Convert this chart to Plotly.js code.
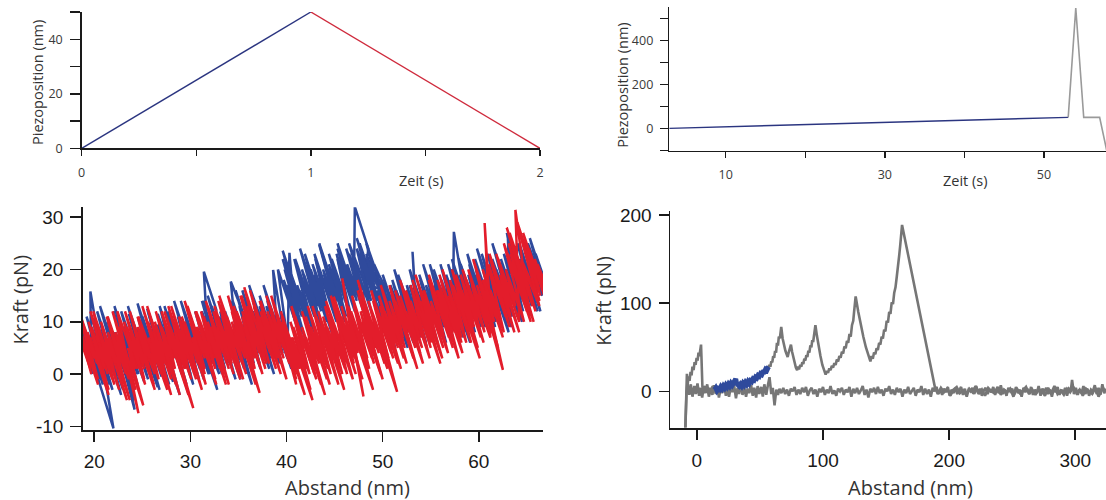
<!DOCTYPE html>
<html>
<head>
<meta charset="utf-8">
<script src="https://cdn.plot.ly/plotly-3.0.1.min.js"></script>
<style>html,body{margin:0;padding:0;background:#fff}#chart{width:1106px;height:500px}</style>
</head>
<body>
<div id="chart"></div>
<script>
// ---- Top left: piezo ramp (Zeit in s, Piezoposition in nm)
const zeitHin = [0, 1];
const piezoHin = [0, 50];
const zeitRueck = [1, 2];
const piezoRueck = [50, 0];

// ---- Top right: slow ramp then fast pull (Zeit in s, Piezoposition in nm)
const zeitLangsam = [2.9, 53.05];
const piezoLangsam = [0, 50];
const zeitSchnell = [53.05, 54.0, 55.0, 57.0, 58.0];
const piezoSchnell = [50, 548, 50, 50, -120];

// ---- Bottom left: force vs distance, blue (extension), two sample passes
const abstandBlau = [18.0,19.7,19.6,22.0,18.9,20.6,19.5,20.5,19.2,21.6,20.5,21.7,20.4,21.6,20.3,23.0,21.8,22.7,21.4,23.4,22.1,24.2,22.7,23.7,22.1,24.5,23.2,
25.2,24.1,25.1,23.6,25.2,24.5,26.6,24.6,26.1,24.5,27.0,25.9,27.3,25.5,27.0,28.2,26.6,28.1,26.6,
28.3,27.5,29.6,27.3,29.0,28.0,30.0,28.9,30.3,28.3,30.5,29.4,31.4,30.3,31.1,29.8,32.0,31.4,32.7,32.1,31.1,
33.0,31.2,32.7,31.3,33.6,32.5,33.9,32.2,33.8,33.0,35.2,34.2,35.7,34.9,33.6,35.6,34.7,35.5,34.1,36.6,35.1,
36.5,34.7,37.2,35.8,37.1,35.8,38.2,36.9,38.3,36.1,38.2,37.2,39.2,38.6,39.7,38.1,39.5,38.0,40.1,39.3,40.1,
40.3,40.9,39.7,41.6,39.8,41.3,39.6,41.9,41.1,42.6,
40.8,42.9,41.6,43.6,42.5,43.3,41.9,44.2,42.9,44.3,
43.0,45.2,43.9,45.3,43.4,45.3,44.4,46.2,44.4,46.3,
45.3,47.1,45.3,47.0,47.1,48.5,47.9,46.5,47.9,46.5,
48.8,47.7,48.9,47.6,49.1,48.3,49.9,49.1,49.6,50.8,
50.5,49.4,51.2,49.9,51.1,49.8,51.9,51.1,52.6,50.8,
52.6,51.4,52.7,51.2,53.6,53.1,53.6,52.5,54.5,53.2,
54.5,53.2,55.2,53.9,55.0,53.8,55.9,54.9,56.6,55.0,
56.3,54.9,57.2,55.9,57.3,57.4,58.6,58.4,56.6,58.5,
56.8,58.5,57.7,59.6,58.0,59.5,57.9,60.2,59.1,60.0,
59.0,61.2,59.7,61.1,59.6,61.8,60.9,62.1,60.3,62.1,
61.2,63.4,61.4,63.3,63.0,64.0,64.0,62.7,63.9,62.6,
64.6,63.3,65.2,63.2,65.1,64.3,66.1,64.2,66.0,65.2,
66.6,65.1,66.7,65.9,67.2];
const kraftBlau = [10,1,15.8,-10.4,8,-1,7,2,11,-2,6,0,9,3,12,-3,5,1,10,-1,8,-6.8,7,2,13,0,9,
-1.5,6.5,1.5,11.5,3.5,8.5,-2.5,10.5,2.5,13.5,-0.5,7.5,0.5,12.5,4.5,-1.5,9.5,1.5,11.5,
3,9,-2,13,4,11,0,8,1,14,2,10,-1,7,3,12,0,19.6,12.3,2,9,
0,12,4,14,1,9,2,13,5,11,-1,17.7,10.7,3,12,1,8,4,14,0,10,
4,16,2,12,5,14,1,10,3,17,6,13,2,19.9,8,11,4,14,3,9,5,
23.2,10,18,8,20,12,23.6,11,17,9,
22,11,20,9,17,13,23,10,19,12,
22,10,19,12,24.7,14,21,11,23,13,
22,12,24,15,32,24,13,23,16,25,
14,22,16,25,17,23,15,21,19,14.8,
8,16,6,15,9,18,7,13,5,17,
8,16,10,20,7,23.4,9,17,6,15,
9,18,7,16,11,19,8,15,6,17,
11,21,8,17,10,27.2,14,7,19,9,
21,12,18,8,19,11,22,9,17,13,
21,9,19,12,22,10,17,11,23,13,
21,9,22,12,26.9,17,11,20,14,23,
14,23,13,26,16,22,12,25,15,21,
15,25,17,23,16];

const abstandBlau2 = [19.8,18.3,19.7,18.4,20.9,19.6,20.8,19.7,21.9,19.7,21.4,20.6,22.8,21.4,22.7,20.6,22.8,21.5,24.2,22.2,23.3,22.0,24.5,22.9,24.6,
22.8,24.7,23.9,25.6,23.5,25.7,25.1,26.8,24.8,26.2,25.0,27.1,26.1,27.8,25.6,27.5,26.5,28.9,27.1,28.0,
26.8,29.1,27.7,29.2,27.7,30.3,29.0,29.8,28.7,30.9,29.4,31.0,29.0,30.9,30.1,31.9,30.8,32.8,30.5,32.4,
31.3,33.3,31.2,32.9,32.2,33.8,31.8,34.7,33.2,34.2,33.1,35.1,33.3,35.2,34.6,36.4,34.5,35.7,34.4,36.6,
35.1,37.3,36.0,37.2,35.4,37.4,36.5,38.7,36.5,38.6,37.4,38.5,37.2,39.5,37.9,39.6,37.6,40.5,39.2,40.2,
39.1,41.1,40.0,41.9,39.6,41.6,40.5,42.2,41.4,42.9,
40.9,42.6,41.8,43.5,41.4,43.6,42.5,44.7,42.7,44.1,
42.9,45.1,43.8,45.2,43.4,46.1,45.0,45.8,44.7,46.6,
45.2,47.1,45.3,47.3,46.3,48.2,46.2,47.8,47.0,48.8,
47.3,49.0,47.3,49.5,48.4,49.4,48.3,50.0,
48.7,50.6,49.6,51.3,49.3,51.0,50.2,51.9,50.0,52.0,51.4,52.1,
51.0,53.2,51.9,53.1,51.6,53.9,52.5,54.6,52.8,54.0,
52.8,55.0,54.0,55.7,53.9,55.4,54.5,56.3,54.2,56.4,
55.4,57.3,55.3,57.0,56.1,57.9,56.0,58.0,57.2,59.1,
57.1,59.0,57.2,59.0,58.2,60.1,58.1,60.0,58.9,60.7,
58.8,60.6,59.7,61.7,60.4,61.8,59.8,62.0,60.7,63.1,
60.9,62.8,61.8,63.5,61.4,63.4,62.3,64.5,63.2,64.6,
63.0,64.9,62.9,65.5,64.2,65.5,64.0,66.4,65.1,66.2,
65.2,66.9,65.3,67.1];
const kraftBlau2 = [0,10,3,12,-2,7,1,9,-3,11,2,8,-4,6,-1,13,1,10,-5,8,3,12,-2,9,0,
12,2,8,-1,13,1,6,-3,10,3,11,0,7,-2,12,2,9,-4,8,4,
13,0,10,2,12,-2,7,3,11,-1,9,1,14,4,10,0,8,-3,12,2,
11,0,14,5,10,2,15,-1,9,4,12,1,13,3,8,-2,11,5,14,2,
13,1,10,4,16,5,12,0,14,3,11,6,15,2,13,4,17,1,10,5,
20,9,17,7,22,11,19,10,16,8,
22,13,19,10,24,12,20,8,21,14,
23,11,20,13,25,10,18,14,22,12,
23,13,25,14,21,11,24,16,22,12,
24,15,26,14,22,17,25,16,
17,7,14,5,18,9,15,6,19,8,13,10,
18,6,15,9,19,7,16,5,17,11,
20,8,15,6,18,10,17,7,21,9,
17,7,20,11,18,8,21,10,16,6,
20,10,22,12,18,8,21,11,19,9,
23,13,20,9,18,11,24,12,21,8,
23,13,20,11,25,14,22,10,19,12,
24,14,27,13,22,15,25,12,21,16,
24,15,26,16];

// ---- Bottom left: red (retraction), two sample passes
const abstandRot = [17.9,19.6,18.6,20.4,18.6,20.3,19.6,21.5,19.7,21.4,
19.6,22.1,21.0,22.0,20.7,23.4,21.4,22.5,21.4,23.6,
22.4,24.3,22.5,24.6,22.4,
24.5,23.4,25.2,24.3,25.1,23.7,26.2,24.7,26.3,24.6,
26.2,25.7,27.6,25.6,27.3,25.5,28.0,27.1,28.9,27.0,
28.3,27.0,30.3,27.9,29.5,27.7,29.7,28.9,30.6,28.8,
30.2,29.4,31.6,30.3,31.5,29.7,31.5,30.7,32.6,30.6,
32.5,31.4,33.7,32.1,33.1,31.8,34.0,32.4,34.3,33.5,
35.2,32.9,34.6,33.8,35.8,34.3,35.7,33.9,37.2,34.8,
36.7,35.4,36.7,35.3,37.8,36.5,35.6,38.2,36.6,38.3,
37.3,39.4,37.2,38.8,38.0,39.7,37.9,39.7,39.1,40.6,
39.6,41.0,39.4,41.1,39.5,41.2,40.5,42.7,40.4,42.1,
40.5,42.9,41.6,43.6,42.3,43.2,42.0,44.2,42.9,44.3,
42.7,45.4,43.6,44.9,43.8,45.8,44.7,46.1,44.1,46.0,
45.2,47.2,44.9,47.1,45.8,48.0,46.5,47.7,46.4,48.6,
47.0,48.9,47.9,49.8,47.5,49.3,47.4,50.2,48.8,51.5,
49.0,50.9,49.9,51.6,49.6,51.3,50.4,52.2,51.3,52.3,
50.7,53.2,51.7,52.8,51.8,54.2,52.7,54.1,52.4,54.1,
53.2,55.0,53.1,55.1,54.1,56.2,54.2,55.6,55.1,56.8,
54.8,56.9,55.6,57.9,56.5,57.5,55.9,58.2,56.9,58.1,
57.0,59.2,57.9,60.1,57.6,59.5,58.4,60.2,58.3,60.0,
59.3,61.2,60.6,61.3,59.8,62.5,60.4,61.7,60.4,62.6,
61.1,62.8,61.2,63.7,62.2,63.3,61.8,64.2,63.8,64.9,
65.3,63.0,65.4,63.1,65.1,63.2,65.9,64.4,
66.3,64.0,66.3,65.2,67.2,66.1,67.0];
const kraftRot = [10,1,8,-1,11,2,7,-3,9,0,
12,-2,6,1,10,-5,8,3,11,-1,
7,-3,9,-7.5,12,
1,9,-1,6,2,12,-2,8,0,11,
3,7,-3,10,1,13,-1,6,-4,9,
3,12,-6.5,9,1,13,2,8,-1,11,
4,10,-2,7,1,13,3,9,-1,12,
3,11,-2,9,4,13,1,12,2,8,
-1,14,5,11,0,10,3,15,-3.6,12,
3,12,5,15,1,10,16.6,2,13,4,
11,0,14,6,12,3,15,5,10,2,
11,-2,9,0,11,2,7,-5,10,1,
13,0,9,-2,7,3,11,-1,8,1,
13,-2,10,3,11,0,8,1,14,4,
11,0,14.8,3,18.3,-4.3,10,4,13,1,
13,3,10,0,15,5,18,2,12,-3.4,
14,4,11,2,15,6,13,3,10,5,
17,3,13,8,15,2,12,5,16,7,
15,5,18,7,14,3,16,9,13,4,
18,7,16,3,13,8,19,6,15,9,
18,6,15,3,19,9,17,7,20,11,
17,7,28.9,9,19,0.8,18,11,20,8,
20,11,22,8,18,13,23,10,31.4,17,
11,23,10,25,14,27,12,22,
14,29,16,24,13,21,17];

const abstandRot2 = [19.7,18.4,20.4,18.5,20.0,19.3,21.5,19.4,21.1,20.5,21.9,19.9,22.6,20.8,22.2,21.5,23.7,21.3,23.3,22.2,24.0,21.9,25.1,23.5,24.3,
23.1,25.3,23.2,25.2,24.4,26.3,24.5,25.7,24.5,26.7,25.8,27.0,25.0,28.0,26.2,27.4,26.3,28.5,26.4,28.4,
27.3,29.8,27.3,29.4,28.4,30.1,28.0,29.8,28.9,31.2,29.1,30.8,30.2,31.5,29.4,31.3,30.6,32.7,30.5,32.6,
31.1,33.1,31.8,34.0,31.6,33.4,32.8,34.5,32.5,34.4,33.3,35.5,33.0,35.4,34.6,35.3,34.3,36.8,34.5,36.7,
35.4,37.5,35.2,37.2,35.9,37.9,36.8,37.8,36.2,38.9,37.3,39.0,37.3,40.0,38.2,39.3,38.3,40.3,38.4,40.4,
39.5,41.0,39.7,41.9,39.4,41.4,40.6,42.5,40.7,42.4,
40.9,43.1,42.0,44.0,41.6,43.4,42.5,44.5,42.2,44.6,
43.1,44.8,43.3,46.0,44.2,45.3,44.0,46.3,45.4,46.9,
44.6,47.0,45.7,47.9,45.7,47.4,46.6,49.0,46.7,48.4,
46.8,49.1,47.7,50.0,47.4,49.6,48.6,50.5,48.5,50.6,
48.8,51.1,49.7,51.9,50.2,51.6,49.8,52.5,50.7,52.1,
51.3,53.6,51.3,53.4,52.4,53.9,51.8,53.8,52.9,54.9,
52.9,55.0,54.0,56.0,53.4,55.4,54.3,56.3,55.0,56.4,
54.8,57.3,55.7,57.0,55.7,58.3,56.8,58.2,56.2,58.7,
57.3,58.8,57.2,59.9,58.2,59.4,58.1,60.5,58.7,60.6,
58.9,61.1,59.8,62.0,59.4,61.6,60.5,62.5,61.2,62.2,
61.0,63.2,61.1,63.3,62.2,64.2,62.0,63.8,62.8,64.7,
62.6,65.0,63.3,65.7,62.9,65.6,64.5,
66.3,64.4,66.4,64.6,67.0,65.8,67.0];
const kraftRot2 = [0,9,-2,11,3,8,-4,10,1,6,-1,12,-3,9,2,7,-5,11,0,8,-2,12,-6,5,1,
10,-2,12,1,7,-3,9,3,11,-1,6,0,13,-4,8,2,10,-2,12,1,
10,-4,12,1,8,-1,13,3,10,-3,11,2,7,0,14,4,9,-2,12,1,
12,1,10,-2,14,4,9,0,13,3,11,-1,15,2,8,5,12,-2,13,1,
11,0,15,4,13,2,10,5,16,1,12,3,14,-1,11,6,13,2,15,4,
10,-1,8,-4,12,1,7,-3,9,0,
11,-1,7,-4,12,2,9,-2,13,0,
11,2,12,-3,9,4,13,0,7,-1,
15,2,11,-1,13,4,10,-3,12,3,
15,2,12,-1,16,4,11,1,14,3,
16,3,13,1,12,5,17,2,14,7,
14,1,16,5,12,4,18,7,14,3,
17,6,13,2,19,8,16,5,14,7,
19,5,16,9,18,4,14,7,20,6,
17,9,20,5,16,10,19,6,18,8,
20,8,17,5,22,10,18,7,16,11,
21,9,23,11,19,8,22,13,20,10,
25,12,23,10,28,13,21,
13,26,15,27,14,22,16];

// ---- Bottom right: full force curve (Abstand in nm, Kraft in pN)
const abstandAnn = [-9.1,-8.8,-8.3,-7.5,-6,-4.8,-3.5,-2,-0.8,0.5,1.8,3,4.2,5.5,7,8.2,9.5,11,12.3,13.5,15,16.2,17.5,19,20.2,21.5,23,24.3,25.5,27,28.2,29.5,31,32.3,33.5,35,36.2,37.5,39,40.2,41.5,43,44.3,45.5,47,48.2,49.5,51,52.3,53.5,55,56.2,57.6,59,60.2,61.6,63,64.3,65.5,67,68.5,70,71.5,73,74.5,76,77.5,79,80.5,82,83.5,85,86.5,88,89.5,91,92.5,94,95.5,97,98.5,100,101.5,103,104.5,106,107.5,109,110.5,112,113.5,115,116.5,118,119.5,121,122.5,124,125.5,127,128.5,130,131.5,133,134.5,136,137.5,139,140.5,142,143.5,145,146.5,148,149.5,151,152.5,154,155.5,157,158.5,160,161.5,163,164.5,166,167.5,169,170.5,172,173.5,175,176.5,178,179.5,181,182.5,184,185.5,187,188.5,190,191.5,193,194.5,196,197.5,199,200.5,202,203.5,205,206.5,208,209.5,211,212.5,214,215.5,217,218.5,220,221.5,223,224.5,226,227.5,229,230.5,232,233.5,235,236.5,238,239.5,241,242.5,244,245.5,247,248.5,250,251.5,253,254.5,256,257.5,259,260.5,262,263.5,265,266.5,268,269.5,271,272.5,274,275.5,277,278.5,280,281.5,283,284.5,286,287.5,289,290.5,292,293.5,295,296.5,297.5,299,300.5,302,303.5,305,306.5,308,309.5,311,312.5,314,315.5,317,318.5,320,321.5,323,324.5];
const kraftAnn = [-41,-25,-5,10,-4,8,-6,6,-3,9,-5,4,-7,6,-2,8,-6,3,-4,7,-3,5,-7,4,-2,8,-5,3,-6,6,-1,7,-8,4,-3,9,-4,5,-6,3,-2,7,-5,4,-7,6,-3,5,-6,8,-4,6,16,-3,4,-16,2,-4,3,-2,4,-3,2,-5,3,0,5,-4,2,-3,4,-1,5,-5,1,4,-3,2,-6,3,-1,5,-4,2,-2,6,-3,1,-5,3,0,4,-4,2,-1,5,-6,3,-2,4,-3,1,6,-4,2,-7,3,-1,4,-3,5,-2,2,-5,3,0,6,-3,2,-4,4,-1,3,-6,2,-2,5,-3,1,4,-5,2,-1,6,-4,3,-3,2,-6,4,0,5,-3,2,-4,3,-1,5,-5,2,-2,4,-3,1,5,-4,3,-6,2,0,4,-3,6,-2,3,-5,1,4,-3,2,-1,5,-4,3,-2,7,-3,2,-5,4,0,3,-4,5,-2,2,-6,4,-1,3,-3,5,-4,2,-2,6,-5,3,0,4,-3,2,-6,3,-1,5,-4,2,-2,4,-5,3,1,13,-3,4,-4,2,-2,6,-3,3,-5,2,0,7,-3,4,-4,8,-2,3];

const abstandZug = [-9.1,-8.4,-7.9,-7.3,-6.5,-5.8,-5,-4.2,-3.5,-2.6,-1.8,-1,-0.2,0.6,1.3,2,2.6,3.3,3.6,4.4,5.5,6.5,7.5,8.5,9.5,10.5,11.5,12.5,13.5,null,56.5,57.5,58.3,59,59.8,60.5,61.3,62,62.8,63.5,64.3,65,65.8,66.4,66.9,68,69.2,70.2,71.2,72,72.8,73.6,74.6,75.5,76.5,77.5,78.5,79.5,80.3,81,82,82.8,83.6,84.4,85.2,86,86.8,87.6,88.4,89.2,90,90.8,91.5,92.2,93,93.5,94,95.2,96.5,98,99.5,101,102.1,103,104,105,106,107,108,109,110,111,112,113,114,115,116,117,118,119,120,121,122,123,124,124.8,125.3,125.9,128,130,132,134,136,137.6,138.5,139.5,140.5,141.5,142.5,143.5,144.5,145.5,146.5,147.5,148.5,149.5,150.5,151.5,152.5,153.5,154.5,155.5,156.5,157.5,158.5,159.5,160.5,161.2,161.8,162.7,188.6,191,193.5,196,198.5,201,203.5,206,208.5,211,213.5,216,218.5,221,223.5,226,228.5,231,233.5,236,238.5,241,243.5,246,248.5,251,253.5,256,258.5,261,263.5,266,268.5,271,273.5,276,278.5,281,283.5,286,288.5,291,293.5,296,298.5,301,303.5,306,308.5,311,313.5,316,318.5,321,323.5];
const kraftZug = [-41,2,20,8,17,12,22,18,28,24,33,30,38,35,44,40,50,53,41,5,-2,6,0,5,-3,4,1,6,-1,null,26,30,28,34,33,40,38,46,44,55,52,62,60,68,73,60,50,46,42,39,44,48,53,45,38,31,27,24,28,25,30,28,33,31,37,35,41,39,46,44,52,50,58,56,65,70,75,63,50,40,30,24,19,23,21,26,24,29,27,32,30,36,34,40,38,45,43,51,49,57,55,65,62,75,80,92,100,107.6,90,75,62,50,40,34,40,37,44,42,49,47,55,53,62,60,70,68,80,78,90,88,101,99,112,118,130,140,155,165,178,188.8,5.7,-3,4,-1,3,-5,2,5,-2,1,-4,3,-1,6,-3,2,-5,4,0,-2,5,-4,2,-1,3,-6,4,-2,1,5,-3,2,-4,3,0,-5,4,-2,6,-3,1,-4,3,-1,5,-2,2,-5,3,0,-3,4,-6,2,3];

const abstandAuswahl = [14,15,16,17,18,19,20,21,22,23,24,25,26,27,28,29,30,30.8,31.5,32.5,33.5,34.5,35.5,36.5,37.5,38.5,39.5,40.5,41.5,42.5,43.5,44.5,45.5,46.5,47.5,48.5,49.5,50.5,51.5,52.5,53.5,54.5,55.5,56.5,57];
const kraftAuswahl = [2,4,1,3,2,5,3,6,4,7,5,8,6,9,7,11,13,14,9,7,6,8,6,9,7,10,8,11,9,12,11,14,13,16,15,18,17,20,19,22,22,25,24,27,28];

// ---- Tick labels
const tickX1 = [0, 0.5, 1, 1.5, 2], tickX1Text = ['0', '', '1', '', '2'];
const tickY1 = [0, 10, 20, 30, 40, 50], tickY1Text = ['0', '', '20', '', '40', ''];
const tickX2 = [10, 20, 30, 40, 50], tickX2Text = ['10', '', '30', '', '50'];
const tickY2 = [-100, 0, 100, 200, 300, 400, 500], tickY2Text = ['', '0', '', '200', '', '400', ''];
const tickX3 = [20, 30, 40, 50, 60], tickX3Text = ['20', '30', '40', '50', '60'];
const tickY3 = [-10, 0, 10, 20, 30], tickY3Text = ['-10', '0', '10', '20', '30'];
const tickX4 = [0, 100, 200, 300], tickX4Text = ['0', '100', '200', '300'];
const tickY4 = [0, 100, 200], tickY4Text = ['0', '100', '200'];

const BLUE = '#2f4a9c', RED = '#e31d2b', NAVY = '#2b3580', DRED = '#cf2a3c', GRAY = '#767676', LGRAY = '#9a9a9a';

const traces = [
  {x: zeitHin, y: piezoHin, xaxis: 'x', yaxis: 'y', mode: 'lines', line: {color: NAVY, width: 1.4}},
  {x: zeitRueck, y: piezoRueck, xaxis: 'x', yaxis: 'y', mode: 'lines', line: {color: DRED, width: 1.4}},
  {x: zeitLangsam, y: piezoLangsam, xaxis: 'x2', yaxis: 'y2', mode: 'lines', line: {color: NAVY, width: 1.4}},
  {x: zeitSchnell, y: piezoSchnell, xaxis: 'x2', yaxis: 'y2', mode: 'lines', line: {color: LGRAY, width: 1.6}},
  {x: abstandBlau, y: kraftBlau, xaxis: 'x3', yaxis: 'y3', mode: 'lines', line: {color: BLUE, width: 2.5}},
  {x: abstandBlau2, y: kraftBlau2, xaxis: 'x3', yaxis: 'y3', mode: 'lines', line: {color: BLUE, width: 2.5}},
  {x: abstandRot, y: kraftRot, xaxis: 'x3', yaxis: 'y3', mode: 'lines', line: {color: RED, width: 2.5}},
  {x: abstandRot2, y: kraftRot2, xaxis: 'x3', yaxis: 'y3', mode: 'lines', line: {color: RED, width: 2.5}},
  {x: abstandAnn, y: kraftAnn, xaxis: 'x4', yaxis: 'y4', mode: 'lines', line: {color: GRAY, width: 2.6}},
  {x: abstandZug, y: kraftZug, xaxis: 'x4', yaxis: 'y4', mode: 'lines', line: {color: GRAY, width: 2.6}},
  {x: abstandAuswahl, y: kraftAuswahl, xaxis: 'x4', yaxis: 'y4', mode: 'lines', line: {color: BLUE, width: 5}}
];

const base = {showline: true, linecolor: '#1a1a1a', linewidth: 1.5, ticks: 'outside', tickcolor: '#1a1a1a',
  tickwidth: 1.5, showgrid: false, zeroline: false, fixedrange: true, tickmode: 'array'};
const topFont = {family: 'Open Sans, Noto Sans, sans-serif', size: 12.5, color: '#3a3a3a'};
const botFont = {family: 'Liberation Sans, Arial, sans-serif', size: 19, color: '#1a1a1a'};
const titleTop = {family: 'Open Sans, sans-serif', size: 14.5, color: '#333'};
const titleBot = {family: 'Open Sans, sans-serif', size: 20, color: '#333'};
const W = 1106, H = 500;

const layout = {
  width: W, height: H, margin: {l: 0, r: 0, t: 0, b: 0}, showlegend: false,
  paper_bgcolor: '#fff', plot_bgcolor: '#fff',
  xaxis: Object.assign({}, base, {domain: [81.7 / W, 540 / W], range: [0, 2], anchor: 'y',
    tickvals: tickX1, ticktext: tickX1Text, ticklen: 6, tickfont: topFont, ticklabelstandoff: 6}),
  yaxis: Object.assign({}, base, {domain: [1 - 148.3 / H, 1 - 12 / H], range: [0, 50], anchor: 'x',
    tickvals: tickY1, ticktext: tickY1Text, ticklen: 10, tickfont: topFont, ticklabelstandoff: 5}),
  xaxis2: Object.assign({}, base, {domain: [669.3 / W, 1], range: [2.91, 57.8], anchor: 'y2',
    tickvals: tickX2, ticktext: tickX2Text, ticklen: 6, tickfont: topFont, ticklabelstandoff: 6}),
  yaxis2: Object.assign({}, base, {domain: [1 - 150.5 / H, 1 - 7 / H], range: [-101, 553], anchor: 'x2',
    tickvals: tickY2, ticktext: tickY2Text, ticklen: 8, tickfont: topFont, ticklabelstandoff: 4}),
  xaxis3: Object.assign({}, base, {domain: [82.7 / W, 543 / W], range: [18.8, 66.67], anchor: 'y3',
    tickvals: tickX3, ticktext: tickX3Text, ticklen: 10, tickfont: botFont, ticklabelstandoff: 4}),
  yaxis3: Object.assign({}, base, {domain: [1 - 430 / H, 1 - 207.3 / H], range: [-10.7, 31.9], anchor: 'x3',
    tickvals: tickY3, ticktext: tickY3Text, ticklen: 11, tickfont: botFont, ticklabelstandoff: 3}),
  xaxis4: Object.assign({}, base, {domain: [670 / W, 1], range: [-21.3, 324.4], anchor: 'y4',
    tickvals: tickX4, ticktext: tickX4Text, ticklen: 10, tickfont: botFont, ticklabelstandoff: 4}),
  yaxis4: Object.assign({}, base, {domain: [1 - 428.3 / H, 1 - 210.7 / H], range: [-41.9, 204.9], anchor: 'x4',
    tickvals: tickY4, ticktext: tickY4Text, ticklen: 10, tickfont: botFont, ticklabelstandoff: 3}),
  annotations: [
    {text: 'Piezoposition (nm)', x: 37 / W, y: 1 - 83 / H, textangle: -90, font: titleTop},
    {text: 'Zeit (s)', x: 421 / W, y: 1 - 180 / H, font: titleTop},
    {text: 'Piezoposition (nm)', x: 621.7 / W, y: 1 - 85 / H, textangle: -90, font: titleTop},
    {text: 'Zeit (s)', x: 965.6 / W, y: 1 - 180 / H, font: titleTop},
    {text: 'Kraft (pN)', x: 19.6 / W, y: 1 - 300 / H, textangle: -90, font: titleBot},
    {text: 'Abstand (nm)', x: 347 / W, y: 1 - 487 / H, font: titleBot},
    {text: 'Kraft (pN)', x: 602.7 / W, y: 1 - 301 / H, textangle: -90, font: titleBot},
    {text: 'Abstand (nm)', x: 910 / W, y: 1 - 487 / H, font: titleBot}
  ].map(a => Object.assign({xref: 'paper', yref: 'paper', showarrow: false, xanchor: 'center', yanchor: 'middle'}, a))
};

Plotly.newPlot('chart', traces, layout, {displayModeBar: false, staticPlot: true});
</script>
</body>
</html>
